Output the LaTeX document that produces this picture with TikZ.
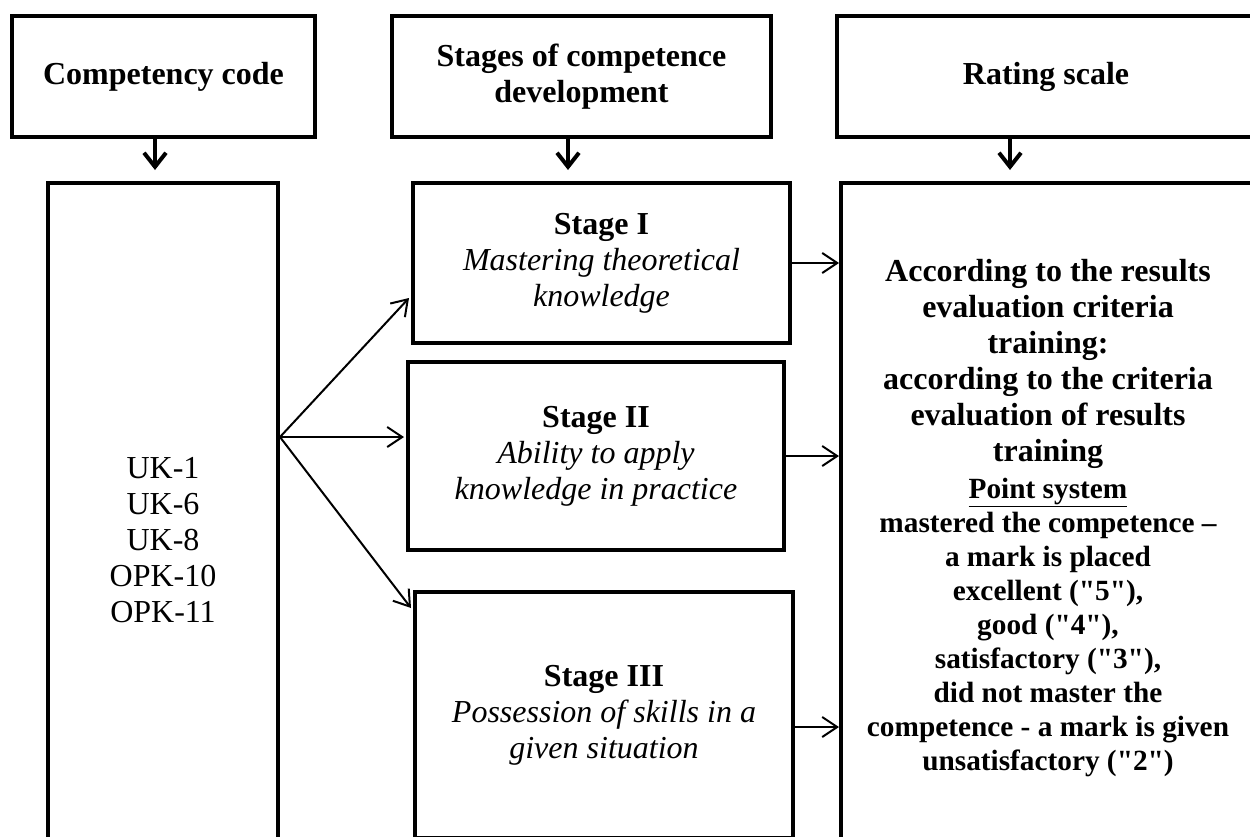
\documentclass[tikz,border=0pt]{standalone}
\usepackage{fontspec}
\setmainfont{Liberation Serif}[Ligatures=TeXOff]
\usetikzlibrary{arrows.meta,positioning,calc}
\tikzset{
  hdrbox/.style={draw, line width=4pt, align=center, inner sep=0pt,
    font=\bfseries\fontsize{32}{36}\selectfont},
  stagebox/.style={draw, line width=4pt, align=center, inner sep=0pt,
    font=\fontsize{32}{36}\selectfont},
  downarr/.style={-{Straight Barb[length=14pt,width=22pt]}, line width=4pt},
  thinarr/.style={-{Straight Barb[length=15pt,width=20pt]}, line width=2pt}
}
\begin{document}
\begin{tikzpicture}[x=1pt, y=-1pt]
  \useasboundingbox (0,0) rectangle (1250,836);
  \clip (0,0) rectangle (1250,836);
  % header row
  \node[hdrbox, minimum width=303pt, minimum height=121pt] (code) at (163.5,76.5) {Competency code};
  \node[hdrbox, minimum width=379pt, minimum height=121pt] (stages) at (581.5,76.5) {Stages of competence\\development};
  \node[hdrbox, minimum width=418pt, minimum height=121pt] (rating) at (1046,76.5) {Rating scale};
  % lower row
  \node[stagebox, minimum width=230pt, minimum height=714pt] (codes) at (163,540) {UK-1\\UK-6\\UK-8\\OPK-10\\OPK-11};
  \node[stagebox, minimum width=377pt, minimum height=160pt] (s1) at (601.5,263)
    {\textbf{Stage I}\\\textit{Mastering theoretical}\\\textit{knowledge}};
  \node[stagebox, minimum width=376pt, minimum height=188pt] (s2) at (596,456)
    {\textbf{Stage II}\\\textit{Ability to apply}\\\textit{knowledge in practice}};
  \node[stagebox, minimum width=378pt, minimum height=246pt] (s3) at (604,715)
    {\textbf{Stage III}\\\textit{Possession of skills in a}\\\textit{given situation}};
  \node[stagebox, font=\bfseries\fontsize{32}{36}\selectfont, text width=400pt,
    minimum width=414pt, minimum height=670pt] (crit) at (1048,518)
    {\spaceskip=\fontdimen2\font\xspaceskip=\fontdimen2\font
     According to the results\\evaluation criteria\\training:\\according to the criteria\\evaluation of results\\training\par
     \vspace{3pt}
     {\fontsize{29.3}{34}\selectfont \spaceskip=\fontdimen2\font\xspaceskip=\fontdimen2\font
      \underline{Point system}\\mastered the competence –\\a mark is placed\\excellent ("5"),\\good ("4"),\\satisfactory ("3"),\\did not master the\\competence - a mark is given\\unsatisfactory ("2")\par}};
  % header arrows
  \draw[downarr, shorten >=11pt] ([xshift=-8.5pt]code.south) -- ([xshift=-8pt]codes.north);
  \draw[downarr, shorten >=11pt] ([xshift=-13.5pt]stages.south) -- ([xshift=-33.5pt]s1.north);
  \draw[downarr, shorten >=11pt] ([xshift=-36pt]rating.south) -- ([xshift=-38pt]crit.north);
  % fan to stages
  \coordinate (fan) at (codes.east |- 0,437);
  \draw[thinarr] (fan) -- ([yshift=-35pt, xshift=-2pt]s1.west);
  \draw[thinarr] (fan) -- ([yshift=19pt, xshift=-2pt]s2.west);
  \draw[thinarr] (fan) -- ([yshift=-18pt, xshift=-2pt]s3.north west);
  % stages to rating
  \draw[thinarr] (s1.east) -- (s1.east -| crit.west);
  \draw[thinarr] (s2.east) -- (s2.east -| crit.west);
  \draw[thinarr] ([yshift=-12pt]s3.east) -- ([yshift=-12pt]s3.east -| crit.west);
\end{tikzpicture}
\end{document}
